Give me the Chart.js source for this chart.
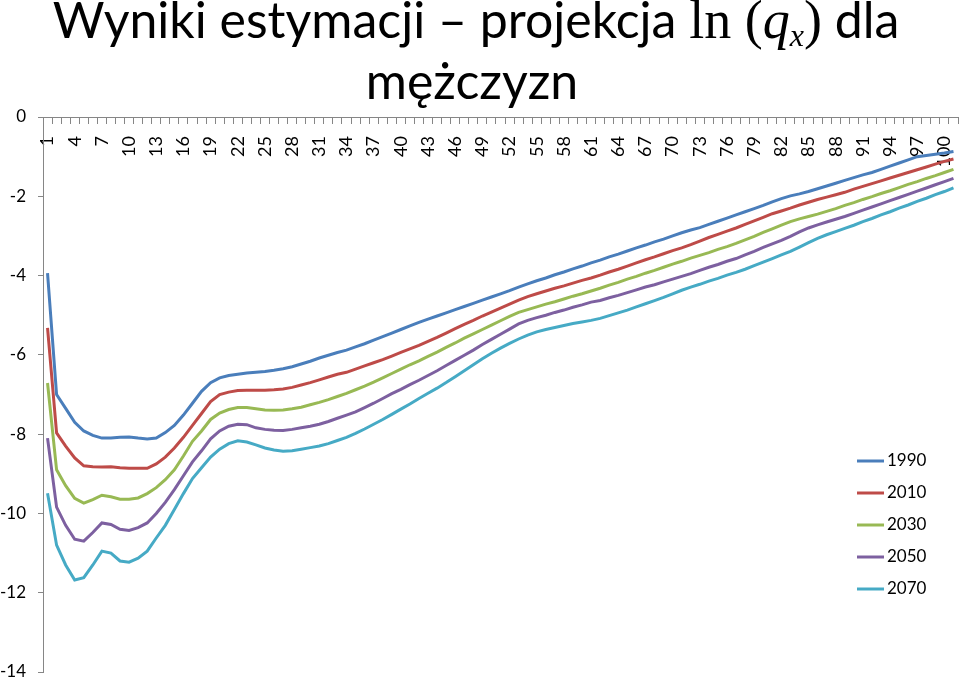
<!DOCTYPE html>
<html>
<head>
<meta charset="utf-8">
<script src="https://cdn.jsdelivr.net/npm/chart.js@4/dist/chart.umd.min.js"></script>
<style>
    body { margin: 0; background: #fff; }
    .wrap { position: relative; width: 960px; height: 680px; }
    #chart { position: absolute; left: 0; top: 0; }
    .title {
        position: absolute; left: 0; top: 0; width: 960px;
        text-align: center; font-family: Lato, "Open Sans", sans-serif;
        font-size: 50px; line-height: 60px; color: #000; pointer-events: none;
    }
    .title .l1 { position: absolute; left: -4px; top: -11px; width: 960px; }
    .title .l2 { position: absolute; left: -8px; top: 50px; width: 960px; }
    .math { font-family: "Liberation Serif", "DejaVu Serif", serif; font-size: 54px; }
    .math i { font-style: italic; }
    .math sub { font-size: 32px; font-style: italic; vertical-align: -8px; line-height: 0; }
</style>
</head>
<body>
<div class="wrap">
    <canvas id="chart" width="960" height="680"></canvas>
    <div class="title">
        <div class="l1">Wyniki estymacji – projekcja <span class="math">ln&nbsp;(<i>q</i><sub>x</sub>)</span> dla</div>
        <div class="l2">mężczyzn</div>
    </div>
</div>
<script>
// Age categories 1..101
const ages = [
    '1','2','3','4','5','6','7','8','9','10','11','12','13','14','15','16','17','18','19','20',
    '21','22','23','24','25','26','27','28','29','30','31','32','33','34','35','36','37','38','39','40',
    '41','42','43','44','45','46','47','48','49','50','51','52','53','54','55','56','57','58','59','60',
    '61','62','63','64','65','66','67','68','69','70','71','72','73','74','75','76','77','78','79','80',
    '81','82','83','84','85','86','87','88','89','90','91','92','93','94','95','96','97','98','99','100','101'
];

// Labels printed on the age axis
const shownAges = ['1','4','7','10','13','16','19','22','25','28','31','34','37','40','43','46','49',
    '52','55','58','61','64','67','70','73','76','79','82','85','88','91','94','97','100'];

const years = ['1990', '2010', '2030', '2050', '2070'];

const lnq1990 = [
    -3.94,-7.00,-7.35,-7.70,-7.92,-8.03,-8.10,-8.10,-8.08,-8.07,
    -8.10,-8.12,-8.10,-7.96,-7.78,-7.52,-7.22,-6.92,-6.70,-6.58,
    -6.52,-6.49,-6.46,-6.44,-6.42,-6.39,-6.35,-6.30,-6.23,-6.16,
    -6.08,-6.01,-5.94,-5.88,-5.80,-5.72,-5.63,-5.54,-5.45,-5.36,
    -5.27,-5.18,-5.10,-5.02,-4.94,-4.86,-4.78,-4.70,-4.62,-4.54,
    -4.46,-4.38,-4.29,-4.21,-4.13,-4.06,-3.98,-3.91,-3.83,-3.76,
    -3.68,-3.61,-3.53,-3.46,-3.38,-3.30,-3.23,-3.15,-3.08,-3.00,
    -2.92,-2.85,-2.79,-2.71,-2.63,-2.55,-2.47,-2.39,-2.31,-2.23,
    -2.14,-2.06,-1.99,-1.94,-1.88,-1.81,-1.74,-1.67,-1.60,-1.53,
    -1.46,-1.40,-1.32,-1.24,-1.16,-1.08,-1.00,-0.97,-0.94,-0.91,-0.87
];
const lnq2010 = [
    -5.32,-7.97,-8.30,-8.60,-8.80,-8.82,-8.83,-8.82,-8.85,-8.86,
    -8.86,-8.86,-8.75,-8.58,-8.35,-8.08,-7.78,-7.48,-7.18,-7.00,
    -6.94,-6.90,-6.89,-6.89,-6.89,-6.88,-6.86,-6.82,-6.76,-6.70,
    -6.63,-6.56,-6.49,-6.44,-6.36,-6.28,-6.20,-6.12,-6.03,-5.94,
    -5.85,-5.76,-5.66,-5.56,-5.45,-5.34,-5.23,-5.13,-5.02,-4.92,
    -4.82,-4.72,-4.62,-4.53,-4.46,-4.39,-4.32,-4.26,-4.19,-4.12,
    -4.06,-3.99,-3.91,-3.84,-3.76,-3.68,-3.60,-3.53,-3.45,-3.37,
    -3.30,-3.22,-3.13,-3.04,-2.96,-2.88,-2.80,-2.71,-2.62,-2.53,
    -2.44,-2.37,-2.30,-2.22,-2.15,-2.08,-2.02,-1.96,-1.90,-1.82,
    -1.75,-1.68,-1.61,-1.54,-1.47,-1.40,-1.33,-1.26,-1.19,-1.12,-1.06
];
const lnq2030 = [
    -6.71,-8.90,-9.30,-9.62,-9.74,-9.65,-9.54,-9.58,-9.64,-9.64,
    -9.61,-9.50,-9.35,-9.15,-8.90,-8.55,-8.18,-7.92,-7.63,-7.47,
    -7.38,-7.33,-7.33,-7.36,-7.39,-7.40,-7.39,-7.36,-7.32,-7.26,
    -7.20,-7.13,-7.05,-6.97,-6.88,-6.79,-6.69,-6.58,-6.47,-6.36,
    -6.25,-6.15,-6.04,-5.93,-5.81,-5.70,-5.58,-5.47,-5.36,-5.25,
    -5.14,-5.03,-4.93,-4.86,-4.79,-4.72,-4.66,-4.59,-4.52,-4.46,
    -4.39,-4.32,-4.24,-4.17,-4.09,-4.02,-3.94,-3.87,-3.79,-3.71,
    -3.64,-3.56,-3.49,-3.42,-3.34,-3.27,-3.19,-3.10,-3.01,-2.91,
    -2.82,-2.73,-2.64,-2.57,-2.51,-2.45,-2.38,-2.31,-2.23,-2.16,
    -2.08,-2.01,-1.93,-1.86,-1.78,-1.70,-1.63,-1.55,-1.48,-1.40,-1.32
];
const lnq2050 = [
    -8.10,-9.84,-10.30,-10.65,-10.70,-10.48,-10.24,-10.28,-10.40,-10.43,
    -10.36,-10.24,-10.00,-9.72,-9.40,-9.05,-8.70,-8.42,-8.12,-7.92,
    -7.80,-7.75,-7.76,-7.84,-7.88,-7.90,-7.91,-7.88,-7.84,-7.80,
    -7.75,-7.68,-7.60,-7.52,-7.44,-7.33,-7.22,-7.10,-6.98,-6.87,
    -6.75,-6.64,-6.52,-6.40,-6.27,-6.14,-6.01,-5.88,-5.74,-5.61,
    -5.48,-5.35,-5.22,-5.13,-5.06,-5.00,-4.93,-4.87,-4.80,-4.74,
    -4.67,-4.63,-4.56,-4.50,-4.43,-4.36,-4.29,-4.23,-4.16,-4.09,
    -4.02,-3.95,-3.87,-3.79,-3.72,-3.64,-3.57,-3.48,-3.39,-3.29,
    -3.20,-3.11,-3.01,-2.90,-2.80,-2.72,-2.65,-2.58,-2.51,-2.43,
    -2.35,-2.27,-2.19,-2.11,-2.03,-1.95,-1.87,-1.79,-1.71,-1.63,-1.55
];
const lnq2070 = [
    -9.49,-10.80,-11.30,-11.68,-11.62,-11.30,-10.95,-11.00,-11.20,-11.23,
    -11.13,-10.95,-10.62,-10.30,-9.90,-9.50,-9.12,-8.85,-8.58,-8.38,
    -8.24,-8.17,-8.20,-8.27,-8.35,-8.40,-8.43,-8.42,-8.38,-8.34,
    -8.30,-8.24,-8.16,-8.08,-7.98,-7.87,-7.75,-7.63,-7.50,-7.37,
    -7.24,-7.10,-6.97,-6.84,-6.70,-6.55,-6.40,-6.25,-6.10,-5.96,
    -5.83,-5.71,-5.60,-5.50,-5.42,-5.36,-5.31,-5.26,-5.21,-5.17,
    -5.13,-5.08,-5.01,-4.94,-4.87,-4.79,-4.71,-4.63,-4.55,-4.46,
    -4.37,-4.29,-4.22,-4.14,-4.07,-3.99,-3.92,-3.84,-3.75,-3.66,
    -3.57,-3.48,-3.39,-3.28,-3.17,-3.06,-2.97,-2.89,-2.81,-2.73,
    -2.64,-2.56,-2.47,-2.39,-2.30,-2.22,-2.13,-2.05,-1.96,-1.88,-1.79
];

const yTicks = [0, -2, -4, -6, -8, -10, -12, -14];

const seriesValues = [lnq1990, lnq2010, lnq2030, lnq2050, lnq2070];
const seriesColors = ['#4a7ebb', '#be4b48', '#98b954', '#7d60a0', '#46aac5'];

const AXIS_GRAY = '#868686';
const FONT = 'Lato, "Open Sans", sans-serif';

// Legend drawn inside the plot area, lower right (like the Excel original)
const insideLegend = {
    id: 'insideLegend',
    afterDatasetsDraw(chart) {
        const ctx = chart.ctx;
        const area = chart.chartArea;
        const x0 = area.right - 101;
        const yStart = area.top + 344;
        const rowGap = 32;
        ctx.save();
        ctx.font = '17px ' + FONT;
        ctx.textBaseline = 'middle';
        ctx.textAlign = 'left';
        chart.data.datasets.forEach((ds, i) => {
            const y = yStart + i * rowGap;
            ctx.strokeStyle = ds.borderColor;
            ctx.lineWidth = 3;
            ctx.beginPath();
            ctx.moveTo(x0, y);
            ctx.lineTo(x0 + 27, y);
            ctx.stroke();
            ctx.fillStyle = '#000';
            ctx.fillText(ds.label, x0 + 30, y);
        });
        ctx.restore();
    }
};

// Keep axes from reserving extra room, so the plot area matches the original
function noAxisPadding(scale) {
    scale.paddingLeft = 0;
    scale.paddingRight = 0;
    scale.paddingTop = 0;
    scale.paddingBottom = 0;
}

const ctx = document.getElementById('chart').getContext('2d');
new Chart(ctx, {
    type: 'line',
    data: {
        labels: ages,
        datasets: years.map((year, i) => ({
            label: year,
            data: seriesValues[i],
            borderColor: seriesColors[i],
            backgroundColor: seriesColors[i],
            borderWidth: 3,
            pointRadius: 0,
            tension: 0,
            fill: false
        }))
    },
    options: {
        responsive: false,
        animation: false,
        layout: {
            padding: { top: 117, left: 0, right: 2, bottom: 8 }
        },
        scales: {
            x: {
                type: 'category',
                position: { y: 0 },
                offset: true,
                // the axis sits on y = 0 inside the plot, so it takes no layout room
                afterFit(scale) {
                    scale.height = 0;
                    noAxisPadding(scale);
                },
                grid: {
                    offset: true,
                    drawOnChartArea: false,
                    tickLength: 6,
                    color: AXIS_GRAY
                },
                border: { color: AXIS_GRAY, width: 1 },
                ticks: {
                    autoSkip: false,
                    minRotation: 90,
                    maxRotation: 90,
                    padding: 13,
                    color: '#000',
                    font: { family: FONT, size: 18 },
                    callback: function(value) {
                        const label = this.getLabelForValue(value);
                        return shownAges.includes(label) ? label : '';
                    }
                }
            },
            y: {
                min: -14,
                max: 0,
                afterFit(scale) {
                    scale.width = 43;
                    noAxisPadding(scale);
                },
                afterBuildTicks(scale) {
                    scale.ticks = yTicks.map(v => ({ value: v }));
                },
                grid: {
                    drawOnChartArea: false,
                    tickLength: 5,
                    color: AXIS_GRAY
                },
                border: { color: AXIS_GRAY, width: 1 },
                ticks: {
                    padding: 12,
                    color: '#000',
                    font: { family: FONT, size: 17 }
                }
            }
        },
        plugins: {
            legend: { display: false },
            title: { display: false },
            tooltip: { enabled: false }
        }
    },
    plugins: [insideLegend]
});
</script>
</body>
</html>
